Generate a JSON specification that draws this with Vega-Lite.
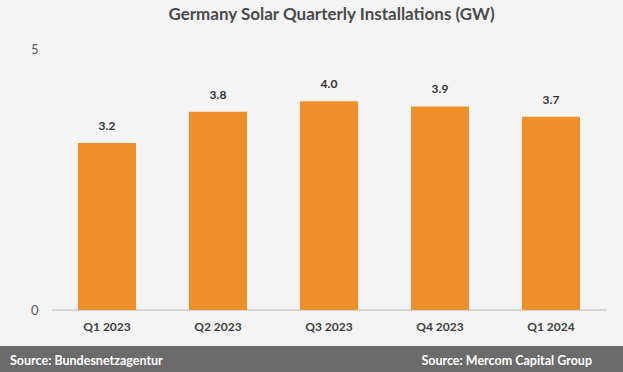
{
  "$schema": "https://vega.github.io/schema/vega-lite/v6.json",
  "background": "#f4f4f4",
  "padding": {"top": 6, "left": 0, "right": 0, "bottom": 0},
  "datasets": {
    "bars": [
      {"quarter": "Q1 2023", "gw": 3.2},
      {"quarter": "Q2 2023", "gw": 3.8},
      {"quarter": "Q3 2023", "gw": 4.0},
      {"quarter": "Q4 2023", "gw": 3.9},
      {"quarter": "Q1 2024", "gw": 3.7}
    ],
    "sources": [
      {"label": "Source: Bundesnetzagentur", "side": "left", "pos": 0},
      {"label": "Source: Mercom Capital Group", "side": "right", "pos": 1}
    ]
  },
  "title": {
    "text": "Germany Solar Quarterly Installations (GW)",
    "font": "Lato",
    "fontSize": 17,
    "fontWeight": "bold",
    "color": "#4a4a4a",
    "anchor": "middle",
    "dx": 20,
    "offset": 19
  },
  "spacing": 14,
  "vconcat": [
    {
      "width": 623,
      "height": 261,
      "data": {"name": "bars"},
      "encoding": {
        "x": {
          "field": "quarter",
          "type": "nominal",
          "sort": null,
          "scale": {
            "domain": ["Q1 2023", "Q2 2023", "Q3 2023", "Q4 2023", "Q1 2024"],
            "paddingInner": 0.477,
            "paddingOuter": 0.545,
            "align": 0.6446
          },
          "axis": {
            "title": null,
            "domain": false,
            "ticks": false,
            "labelAngle": 0,
            "labelPadding": 11,
            "labelFont": "Lato",
            "labelFontSize": 12,
            "labelFontWeight": "bold",
            "labelColor": "#404040"
          }
        }
      },
      "layer": [
        {
          "mark": {"type": "rule", "color": "#d6d6d6", "strokeWidth": 1, "xOffset": -55, "x2Offset": 56},
          "encoding": {
            "x": {"datum": "Q1 2023", "type": "nominal"},
            "x2": {"datum": "Q1 2024"},
            "y": {"datum": 0, "type": "quantitative"}
          }
        },
        {
          "mark": {"type": "bar", "color": "#EF8F2A"},
          "encoding": {
            "y": {
              "field": "gw",
              "type": "quantitative",
              "scale": {"domain": [0, 5], "nice": false},
              "axis": {
                "title": null,
                "values": [0, 5],
                "domain": false,
                "ticks": false,
                "grid": false,
                "offset": -40,
                "labelPadding": 2,
                "labelFont": "Lato",
                "labelFontSize": 13,
                "labelColor": "#595959"
              }
            }
          }
        },
        {
          "mark": {"type": "text", "baseline": "bottom", "dy": -10, "font": "Lato", "fontSize": 12, "fontWeight": "bold", "color": "#333333"},
          "encoding": {
            "y": {"field": "gw", "type": "quantitative"},
            "text": {"field": "gw", "type": "quantitative", "format": ".1f"}
          }
        }
      ]
    },
    {
      "width": 623,
      "height": 26,
      "view": {"fill": "#6b6b6b", "stroke": null},
      "data": {"name": "sources"},
      "encoding": {
        "x": {"field": "pos", "type": "quantitative", "scale": {"domain": [0, 1], "nice": false}, "axis": null},
        "text": {"field": "label"}
      },
      "layer": [
        {
          "transform": [{"filter": "datum.side === 'left'"}],
          "mark": {"type": "text", "align": "left", "dx": 10, "dy": 1.5, "font": "Lato", "fontSize": 12.5, "fontWeight": "bold", "color": "#ffffff"}
        },
        {
          "transform": [{"filter": "datum.side === 'right'"}],
          "mark": {"type": "text", "align": "right", "dx": -31, "dy": 1.5, "font": "Lato", "fontSize": 12.5, "fontWeight": "bold", "color": "#ffffff"}
        }
      ]
    }
  ],
  "config": {"view": {"stroke": null}, "font": "Lato"}
}
